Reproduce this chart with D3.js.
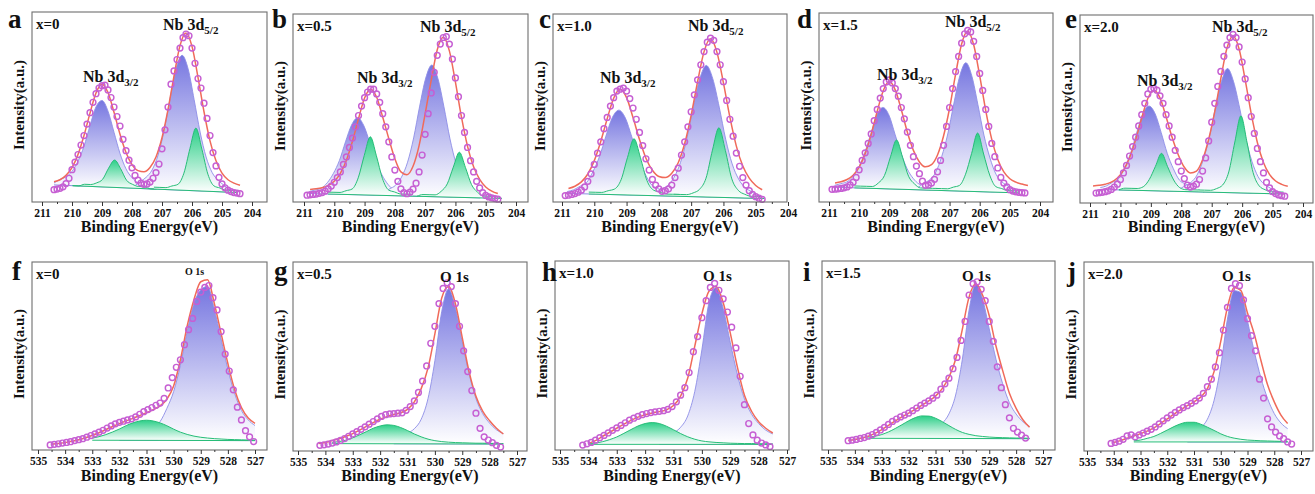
<!DOCTYPE html>
<html lang="en">
<head>
<meta charset="utf-8">
<title>XPS Nb 3d / O 1s</title>
<script src="https://cdn.jsdelivr.net/npm/d3@7"></script>
<style>
  body { margin: 0; background: #fff; }
  svg text { font-family: "Liberation Serif", "Times New Roman", serif; font-weight: bold; fill: #111; }
</style>
</head>
<body>
<script>
// ---------- data (intensity normalised to panel height, 0 = bottom, 1 = top) ----------
const nbTicks = [211, 210, 209, 208, 207, 206, 205, 204];
const oTicks = [535, 534, 533, 532, 531, 530, 529, 528, 527];
const letters = ["a", "b", "c", "d", "e", "f", "g", "h", "i", "j"];
const compositions = ["x=0", "x=0.5", "x=1.0", "x=1.5", "x=2.0"];

// measured points, Nb 3d (0.1 eV step, first energy in nbDotStart)
const nbDotStart = [210.6, 210.9, 210.9, 210.9, 210.8];
const nbDotsA = [.065,.068,.072,.08,.097,.125,.17,.21,.25,.30,.35,.41,.47,.525,.57,.60,.612,.615,.59,.55,.50,.45,.40,.33,.27,.22,.18,.14,.115,.10,.093,.095,.105,.125,.155,.2,.28,.38,.50,.62,.69,.75,.81,.865,.884,.875,.81,.73,.65,.60,.52,.44,.35,.26,.19,.13,.095,.075,.062,.055,.05,.047,.044];
const nbDotsB = [.036,.038,.04,.042,.046,.05,.058,.07,.085,.105,.13,.16,.20,.24,.29,.34,.40,.46,.51,.555,.585,.60,.60,.575,.53,.47,.40,.32,.24,.17,.11,.07,.05,.044,.052,.068,.10,.16,.25,.36,.47,.58,.69,.78,.84,.875,.88,.84,.76,.66,.56,.46,.37,.29,.22,.16,.11,.075,.05,.035,.027,.022,.018,.015];
const nbDotsC = [.034,.036,.04,.045,.052,.063,.08,.11,.15,.20,.26,.32,.39,.45,.51,.555,.59,.60,.606,.59,.55,.50,.44,.37,.30,.23,.17,.12,.09,.07,.057,.06,.07,.09,.13,.18,.25,.32,.40,.48,.57,.65,.73,.80,.85,.872,.86,.80,.73,.64,.54,.44,.35,.26,.19,.13,.09,.06,.04,.028,.02,.014];
const nbDotsD = [.067,.068,.07,.072,.075,.08,.09,.105,.13,.17,.22,.26,.31,.36,.43,.49,.55,.60,.635,.646,.63,.60,.56,.50,.44,.37,.30,.24,.19,.15,.11,.088,.09,.10,.12,.16,.22,.30,.40,.50,.60,.69,.77,.84,.89,.908,.90,.85,.77,.68,.59,.49,.40,.31,.24,.18,.13,.10,.08,.065,.058,.054,.051,.049,.048];
const nbDotsE = [.053,.055,.057,.06,.065,.072,.085,.10,.125,.16,.20,.25,.30,.35,.41,.47,.53,.58,.605,.61,.60,.57,.53,.47,.41,.35,.28,.22,.17,.13,.095,.085,.09,.10,.125,.17,.24,.33,.43,.53,.62,.70,.78,.84,.88,.897,.88,.83,.75,.66,.56,.46,.37,.29,.22,.16,.11,.08,.06,.05,.043,.039,.036];

// fitted envelope, Nb 3d (0.2 eV step)
const nbFitStart = [210.6, 210.8, 210.8, 210.8, 210.9];
const nbFitA = [.107,.117,.14,.181,.25,.35,.468,.574,.62,.576,.472,.357,.261,.197,.165,.159,.182,.237,.338,.486,.663,.823,.89,.819,.656,.475,.322,.217,.152,.117,.099,.088];
const nbFitB = [.067,.07,.076,.088,.11,.152,.222,.323,.443,.553,.60,.557,.451,.337,.23,.16,.145,.19,.30,.469,.648,.81,.876,.804,.638,.451,.296,.187,.12,.08,.058,.045];
const nbFitC = [.072,.084,.107,.149,.22,.322,.443,.552,.60,.555,.449,.332,.233,.169,.136,.13,.153,.209,.311,.461,.64,.80,.868,.796,.634,.451,.297,.191,.127,.088,.065];
const nbFitD = [.101,.107,.119,.142,.185,.256,.358,.48,.589,.637,.592,.488,.369,.273,.212,.186,.198,.249,.349,.496,.676,.836,.903,.832,.667,.484,.331,.225,.159,.123,.105,.095,.087];
const nbFitE = [.09,.094,.10,.111,.133,.174,.241,.337,.452,.556,.60,.559,.459,.348,.257,.19,.16,.17,.23,.339,.486,.663,.823,.888,.819,.655,.474,.322,.216,.152,.117,.099,.089];

// fitted components, Nb 3d: [first energy, heights above baseline] (0.2 eV step)
const nbBlueA = [[210.6, [.01,.03,.045,.075,.13,.21,.32,.42,.455,.40,.29,.18,.10,.055,.03,.02,.01]], [207.93, [.01,.035,.06,.10,.18,.31,.48,.64,.71,.64,.48,.31,.18,.10,.06,.035,.01]]];
const nbGreenA = [[209.98, [0,0,.01,.01,.02,.04,.10,.144,.10,.04,.02,.01,.01,0,0]], [207.27, [.01,.01,.01,.02,.03,.09,.22,.33,.22,.09,.03,.02,.01,.01,.01]]];
const nbBlueB = [[210.83, [.01,.02,.03,.06,.11,.18,.28,.37,.41,.37,.28,.18,.11,.06,.03,.02,.01]], [208.38, [.01,.035,.055,.10,.18,.31,.48,.63,.70,.63,.48,.31,.18,.10,.055,.035,.01]]];
const nbGreenB = [[210.21, [.01,.01,.01,.02,.03,.09,.21,.31,.21,.09,.03,.02,.01,.01,.01]], [207.27, [0,.01,.01,.01,.03,.07,.16,.24,.16,.07,.03,.01,.01,.01,0]]];
const nbBlueC = [[210.84, [.01,.02,.04,.06,.12,.20,.31,.41,.45,.41,.31,.20,.12,.06,.04,.02,.01]], [208.13, [.01,.035,.055,.10,.18,.31,.48,.63,.70,.63,.48,.31,.18,.10,.055,.035,.01]]];
const nbGreenC = [[210.17, [.01,.01,.01,.02,.03,.08,.20,.30,.20,.08,.03,.02,.01,.01,.01]], [207.54, [.01,.01,.01,.02,.04,.10,.25,.37,.25,.10,.04,.02,.01,.01,.01]]];
const nbBlueD = [[210.81, [.01,.02,.03,.06,.11,.19,.29,.39,.43,.39,.29,.19,.11,.06,.03,.02,.01]], [208.06, [.01,.035,.055,.095,.18,.30,.46,.61,.68,.61,.46,.30,.18,.095,.055,.035,.01]]];
const nbGreenD = [[210.16, [.01,.01,.01,.01,.03,.07,.17,.26,.17,.07,.03,.01,.01,.01,.01]], [207.47, [.01,.01,.01,.02,.03,.09,.20,.31,.20,.09,.03,.02,.01,.01,.01]]];
const nbBlueE = [[210.66, [.01,.02,.04,.06,.12,.20,.31,.41,.45,.41,.31,.20,.12,.06,.04,.02,.01]], [208.08, [.01,.03,.05,.09,.17,.29,.45,.59,.66,.59,.45,.29,.17,.09,.05,.03,.01]]];
const nbGreenE = [[210.05, [0,.01,.01,.01,.02,.06,.13,.20,.13,.06,.02,.01,.01,.01,0]], [207.44, [.01,.01,.01,.02,.04,.11,.27,.41,.27,.11,.04,.02,.01,.01,.01]]];

// baselines: [energy 1, level 1, energy 2, level 2]
const nbBase = [[210.3,.088,204.95,.053], [210.57,.044,204.97,.021], [210.45,.044,205.3,.021], [210.37,.076,205.05,.05], [210.4,.071,205.15,.05]];

// measured points, O 1s (0.15 eV step)
const oDotStart = [534.55, 534.2, 534.2, 534.25, 534.1];
const oDotsF = [.027,.03,.033,.037,.04,.044,.05,.055,.06,.068,.077,.086,.095,.105,.117,.128,.139,.147,.153,.16,.166,.176,.19,.204,.215,.226,.238,.25,.275,.33,.385,.44,.48,.56,.64,.70,.79,.84,.865,.875,.81,.745,.63,.51,.42,.32,.228,.16,.103,.07,.045];
const oDotsG = [.03,.033,.037,.042,.048,.056,.066,.078,.09,.102,.115,.128,.142,.156,.17,.183,.192,.196,.198,.2,.202,.215,.235,.265,.31,.37,.45,.57,.66,.78,.86,.89,.87,.78,.66,.53,.42,.32,.20,.12,.075,.058,.044,.03,.021];
const oDotsH = [.026,.033,.04,.052,.065,.077,.09,.104,.117,.13,.144,.158,.168,.178,.187,.193,.198,.202,.205,.208,.215,.23,.255,.29,.33,.41,.52,.60,.70,.79,.86,.882,.845,.80,.73,.65,.54,.39,.24,.14,.08,.052,.037,.027,.018];
const oDotsI = [.049,.052,.056,.061,.066,.073,.082,.093,.106,.12,.135,.151,.164,.175,.185,.195,.208,.222,.236,.248,.26,.274,.29,.322,.35,.38,.43,.49,.58,.68,.82,.88,.89,.85,.79,.68,.575,.44,.33,.24,.17,.115,.095,.079,.063];
const oDotsJ = [.04,.045,.052,.062,.08,.085,.075,.085,.095,.105,.115,.127,.143,.16,.175,.19,.204,.217,.23,.24,.252,.265,.28,.305,.34,.38,.445,.52,.64,.76,.86,.885,.875,.80,.70,.61,.53,.38,.28,.17,.127,.10,.08,.065,.048,.037];

// fitted envelope, O 1s (0.25 eV step)
const oFitStart = [534.5, 534.25, 534.0, 534.25, 534.0];
const oFitF = [.03,.034,.04,.046,.055,.065,.078,.092,.108,.125,.14,.155,.168,.183,.198,.215,.235,.27,.34,.48,.66,.80,.895,.905,.78,.62,.46,.32,.225,.17,.142];
const oFitG = [.04,.045,.055,.065,.078,.092,.11,.13,.15,.168,.182,.193,.202,.22,.26,.33,.44,.62,.81,.87,.78,.60,.42,.29,.21,.16,.12,.09];
const oFitH = [.035,.05,.072,.094,.115,.137,.157,.174,.187,.196,.203,.212,.235,.285,.38,.55,.72,.84,.865,.78,.62,.44,.29,.205,.15,.115,.09];
const oFitI = [.05,.055,.063,.073,.088,.108,.13,.154,.175,.195,.215,.238,.26,.285,.325,.385,.48,.64,.81,.88,.82,.71,.55,.42,.30,.22,.16,.12];
const oFitJ = [.045,.055,.068,.08,.092,.105,.122,.145,.17,.195,.218,.24,.26,.285,.33,.42,.58,.76,.865,.85,.73,.62,.48,.35,.26,.19,.145];

// fitted components, O 1s (0.25 eV step)
const oBlueF = [[532.0, [.015,.02,.03,.04,.05,.07,.10,.17,.26,.40,.58,.73,.80,.82,.70,.54,.38,.25,.16,.11,.08]]];
const oGreenF = [[533.0, [.011,.019,.03,.044,.06,.078,.093,.103,.107,.103,.093,.078,.06,.044,.032,.023,.017,.013,.01,.008,.006,.005,.004,.003,.003]]];
const oBlueG = [[531.5, [.03,.04,.055,.08,.13,.24,.44,.70,.82,.72,.54,.37,.24,.16,.11,.075,.055]]];
const oGreenG = [[533.75, [.006,.011,.019,.031,.047,.064,.082,.094,.10,.097,.086,.07,.052,.037,.025,.017,.012,.009,.007,.006,.005,.004,.004,.003,.003,.002]]];
const oBlueH = [[531.5, [.025,.04,.06,.09,.15,.28,.50,.75,.83,.72,.54,.37,.24,.16,.11,.075,.055]]];
const oGreenH = [[534.0, [.004,.007,.014,.025,.039,.058,.078,.097,.11,.115,.11,.096,.077,.057,.04,.027,.018,.013,.01,.008,.006,.005,.004,.004,.003,.003,.002]]];
const oBlueI = [[531.25, [.03,.05,.08,.13,.23,.42,.68,.82,.74,.58,.42,.29,.19,.13,.09,.065]]];
const oGreenI = [[533.5, [.006,.011,.02,.034,.052,.072,.093,.11,.119,.118,.107,.089,.068,.048,.032,.022,.015,.011,.008,.006,.005,.004,.003,.003,.002]]];
const oBlueJ = [[531.25, [.03,.05,.075,.12,.22,.40,.65,.80,.79,.64,.48,.34,.23,.15,.10,.07]]];
const oGreenJ = [[533.25, [.006,.01,.019,.029,.045,.063,.081,.096,.104,.104,.094,.078,.061,.043,.029,.02,.014,.01,.008,.006,.005,.004,.003,.003]]];
const oBase = [[533.0,.052,527.0,.05], [533.75,.039,527.5,.037], [534.0,.03,527.5,.03], [533.5,.062,527.5,.06], [533.25,.048,527.5,.048]];

// ---------- table built from the arrays ----------
const nbDots = [nbDotsA, nbDotsB, nbDotsC, nbDotsD, nbDotsE];
const nbFits = [nbFitA, nbFitB, nbFitC, nbFitD, nbFitE];
const nbBlues = [nbBlueA, nbBlueB, nbBlueC, nbBlueD, nbBlueE];
const nbGreens = [nbGreenA, nbGreenB, nbGreenC, nbGreenD, nbGreenE];
const oDots = [oDotsF, oDotsG, oDotsH, oDotsI, oDotsJ];
const oFits = [oFitF, oFitG, oFitH, oFitI, oFitJ];
const oBlues = [oBlueF, oBlueG, oBlueH, oBlueI, oBlueJ];
const oGreens = [oGreenF, oGreenG, oGreenH, oGreenI, oGreenJ];

const panels = [];
for (let k = 0; k < 5; k++) {
  panels.push({nb: true, dots: nbDots[k], dotFrom: nbDotStart[k], dotStep: 0.1, fit: nbFits[k], fitFrom: nbFitStart[k], fitStep: 0.2,
    blue: nbBlues[k], green: nbGreens[k], step: 0.2, base: nbBase[k], ticks: nbTicks});
}
for (let k = 0; k < 5; k++) {
  panels.push({nb: false, dots: oDots[k], dotFrom: oDotStart[k], dotStep: 0.15, fit: oFits[k], fitFrom: oFitStart[k], fitStep: 0.25,
    blue: oBlues[k], green: oGreens[k], step: 0.25, base: oBase[k], ticks: oTicks});
}

// ---------- layout ----------
var w = 1315, h = 494;
// frame boxes [left, top, right, bottom] and pixel of first / last tick
const frames = [[32,12,267,202],[293,14,528,202],[553,14,787,202],[819,13,1053,202],[1080,15,1313,203],
                [32,262,267,450],[293,262,527,451],[555,261,789,450],[822,261,1055,450],[1084,262,1313,451]];
const tickPx = [[42,252],[304,516],[562,788],[829,1040],[1090,1303],
                [38,255],[298,517],[560,787],[828,1043],[1087,1301]];
const letterPos = [[8,28],[272,28],[539,28],[797,28],[1065,28],[12,280],[274,280],[542,281],[803,281],[1067,281]];
const nbLabelPos = [[[163,30],[83,82]], [[420,32],[357,83]], [[688,31],[600,83]], [[945,27],[877,80]], [[1212,32],[1137,86]]];
const oLabelPos = [[185,275,10],[440,282,15],[703,281,15],[962,281,15],[1222,281,15]];

var svg = d3.select("body").append("svg").attr("width", w).attr("height", h);
svg.append("rect").attr("width", w).attr("height", h).attr("fill", "#fff");

var defs = svg.append("defs");
function gradient(id, color) {
  var gr = defs.append("linearGradient").attr("id", id)
    .attr("x1", 0).attr("y1", 0).attr("x2", 0).attr("y2", 1);
  gr.append("stop").attr("offset", "0%").attr("stop-color", color);
  gr.append("stop").attr("offset", "100%").attr("stop-color", "#ffffff");
}
gradient("blueFill", "#7676e0");
gradient("greenFill", "#2ccf88");

function series(from, step, vals) {
  return vals.map(function(v, i) { return [from - i * step, v]; });
}

panels.forEach(function(p, k) {
  var f = frames[k];
  var x = d3.scaleLinear().domain([p.ticks[0], p.ticks[p.ticks.length - 1]]).range(tickPx[k]);
  var y = d3.scaleLinear().domain([0, 1]).range([f[3], f[1]]);
  var base = d3.scaleLinear().domain([p.base[0], p.base[2]]).range([p.base[1], p.base[3]]);
  var g = svg.append("g");

  //fitted components: blue first, green on top
  function drawComps(list, fill, stroke, width) {
    list.forEach(function(c) {
      var pts = series(c[0], p.step, c[1]);
      g.append("path").datum(pts)
        .attr("d", d3.area().curve(d3.curveMonotoneX)
          .x(function(d) { return x(d[0]); })
          .y0(function(d) { return y(base(d[0])); })
          .y1(function(d) { return y(base(d[0]) + d[1]); }))
        .attr("fill", "url(#" + fill + ")");
      g.append("path").datum(pts)
        .attr("d", d3.line().curve(d3.curveMonotoneX)
          .x(function(d) { return x(d[0]); })
          .y(function(d) { return y(base(d[0]) + d[1]); }))
        .attr("fill", "none").attr("stroke", stroke).attr("stroke-width", width);
    });
    //baseline under this colour
    var lo = d3.min(list, function(c) { return c[0] - (c[1].length - 1) * p.step; });
    var hi = d3.max(list, function(c) { return c[0]; });
    g.append("line")
      .attr("x1", x(hi)).attr("y1", y(base(hi)))
      .attr("x2", x(lo)).attr("y2", y(base(lo)))
      .attr("stroke", stroke).attr("stroke-width", 1);
  }
  drawComps(p.blue, "blueFill", "#8d8de6", 0.9);
  drawComps(p.green, "greenFill", "#27bd78", 1);

  //envelope
  g.append("path").datum(series(p.fitFrom, p.fitStep, p.fit))
    .attr("d", d3.line().curve(d3.curveMonotoneX)
      .x(function(d) { return x(d[0]); })
      .y(function(d) { return y(d[1]); }))
    .attr("fill", "none").attr("stroke", "#f06a5a").attr("stroke-width", 1.5);

  //measured points
  g.selectAll("circle").data(series(p.dotFrom, p.dotStep, p.dots)).enter()
    .append("circle")
    .attr("cx", function(d) { return x(d[0]); })
    .attr("cy", function(d) { return y(d[1]); })
    .attr("r", 2.9)
    .attr("fill", "none").attr("stroke", "#c65fd3").attr("stroke-width", 1.45);

  //frame
  g.append("rect").attr("x", f[0]).attr("y", f[1])
    .attr("width", f[2] - f[0]).attr("height", f[3] - f[1])
    .attr("fill", "none").attr("stroke", "#6e6e6e").attr("stroke-width", 1.1);

  //x axis: major and minor ticks
  var ax = g.append("g").attr("transform", "translate(0," + f[3] + ")")
    .call(d3.axisBottom(x).tickValues(p.ticks).tickSize(4).tickPadding(3).tickFormat(d3.format("d")));
  ax.select(".domain").remove();
  ax.attr("font-family", null).attr("font-size", 11.5).attr("color", "#333");
  var minor = p.ticks.slice(1).map(function(t) { return t + 0.5; });
  var mx = g.append("g").attr("transform", "translate(0," + f[3] + ")")
    .call(d3.axisBottom(x).tickValues(minor).tickSize(2).tickFormat(""));
  mx.select(".domain").remove();
  mx.attr("color", "#333");

  //titles
  g.append("text").attr("x", (f[0] + f[2]) / 2).attr("y", k < 5 ? 232 : 481)
    .attr("text-anchor", "middle").attr("font-size", 16).text("Binding Energy(eV)");
  g.append("text").attr("transform", "translate(" + (f[0] - 8) + "," + ((f[1] + f[3]) / 2 - 2) + ") rotate(-90)")
    .attr("text-anchor", "middle").attr("font-size", 15).text("Intensity(a.u.)");

  //panel letter and composition
  g.append("text").attr("x", letterPos[k][0]).attr("y", letterPos[k][1])
    .attr("font-size", 27).text(letters[k]);
  g.append("text").attr("x", f[0] + 4).attr("y", f[1] + 17)
    .attr("font-size", 15).text(compositions[k % 5]);

  //peak labels
  if (p.nb) {
    [["5/2", nbLabelPos[k][0]], ["3/2", nbLabelPos[k][1]]].forEach(function(l) {
      var t = g.append("text").attr("x", l[1][0]).attr("y", l[1][1]).attr("font-size", 16);
      t.append("tspan").text("Nb 3d");
      t.append("tspan").attr("font-size", 11).attr("dy", 4).text(l[0]);
    });
  } else {
    var o = oLabelPos[k - 5];
    g.append("text").attr("x", o[0]).attr("y", o[1]).attr("font-size", o[2]).text("O 1s");
  }
});
</script>
</body>
</html>
